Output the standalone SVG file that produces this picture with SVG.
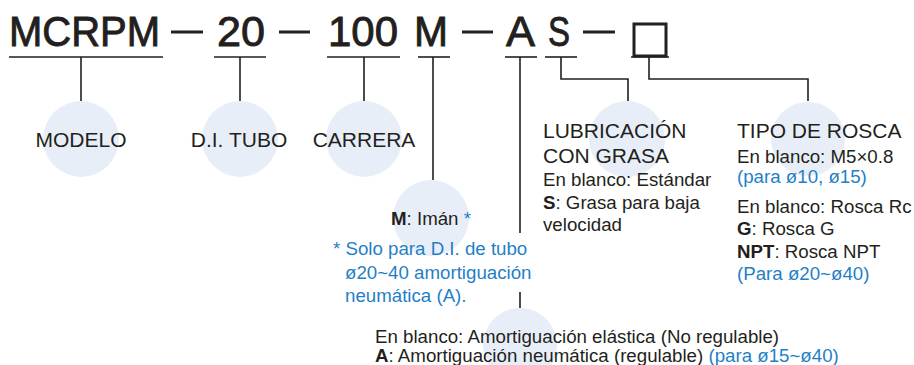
<svg xmlns="http://www.w3.org/2000/svg" width="914" height="365" viewBox="0 0 914 365">
<style>
.code{font-family:"Liberation Sans",Arial,sans-serif;font-size:42px;fill:#231f20;stroke:#231f20;stroke-width:0.9}
.lbl{font-family:"Liberation Sans",Arial,sans-serif;font-size:21px;fill:#231f20}
.sm{font-family:"Liberation Sans",Arial,sans-serif;font-size:18.7px;fill:#231f20}
.blue{fill:#1f7fc6}
.b{font-weight:bold}
.bub{fill:#e8eef8}
.ln{stroke:#231f20;stroke-width:1.6;fill:none}
.dash{stroke:#231f20;stroke-width:3}
</style>
<g id="code">
<text class="code" x="9" y="45.5" textLength="151" lengthAdjust="spacingAndGlyphs">MCRPM</text>
<line class="dash" x1="171" y1="32" x2="203" y2="32"/>
<text class="code" x="217" y="45.5" textLength="48" lengthAdjust="spacingAndGlyphs">20</text>
<line class="dash" x1="279" y1="32" x2="310" y2="32"/>
<text class="code" x="328" y="45.5" textLength="70" lengthAdjust="spacingAndGlyphs">100</text>
<text class="code" x="414" y="45.5" textLength="34" lengthAdjust="spacingAndGlyphs">M</text>
<line class="dash" x1="462" y1="32" x2="493" y2="32"/>
<text class="code" x="506" y="45.5" textLength="29" lengthAdjust="spacingAndGlyphs">A</text>
<text class="code" x="548" y="45.5" textLength="22" lengthAdjust="spacingAndGlyphs">S</text>
<line class="dash" x1="583" y1="32" x2="615" y2="32"/>
<rect x="634" y="24" width="32" height="32" fill="none" stroke="#231f20" stroke-width="3"/>
</g>
<g id="connectors">
<line class="ln" x1="9" y1="57" x2="163" y2="57"/>
<line class="ln" x1="214" y1="57" x2="266" y2="57"/>
<line class="ln" x1="327" y1="57" x2="400" y2="57"/>
<line class="ln" x1="418" y1="57" x2="450" y2="57"/>
<line class="ln" x1="505" y1="57" x2="537" y2="57"/>
<line class="ln" x1="545" y1="57" x2="577" y2="57"/>
<line class="ln" x1="631" y1="57" x2="669" y2="57"/>
<line class="ln" x1="81" y1="57" x2="81" y2="101"/>
<line class="ln" x1="240" y1="57" x2="240" y2="101"/>
<line class="ln" x1="364" y1="57" x2="364" y2="101"/>
<line class="ln" x1="433" y1="57" x2="433" y2="180"/>
<line class="ln" x1="520" y1="57" x2="520" y2="233"/>
<line class="ln" x1="520" y1="292" x2="520" y2="308"/>
<polyline class="ln" points="561,57 561,79 628,79 628,101"/>
<polyline class="ln" points="649,57 649,79 808,79 808,101"/>
</g>
<g id="modelo">
<circle class="bub" cx="81" cy="139" r="38"/>
<text class="lbl" x="81" y="147" text-anchor="middle">MODELO</text>
</g>
<g id="tubo">
<circle class="bub" cx="240" cy="139" r="38"/>
<text class="lbl" x="239" y="147" text-anchor="middle">D.I. TUBO</text>
</g>
<g id="carrera">
<circle class="bub" cx="364" cy="139" r="38"/>
<text class="lbl" x="364" y="147" text-anchor="middle">CARRERA</text>
</g>
<g id="iman">
<circle class="bub" cx="431" cy="218" r="38"/>
<text class="sm" x="431" y="225" text-anchor="middle"><tspan class="b">M</tspan>: Imán <tspan class="blue">*</tspan></text>
<text class="sm blue" x="333" y="255">* Solo para D.I. de tubo</text>
<text class="sm blue" x="345" y="279">ø20~40 amortiguación</text>
<text class="sm blue" x="345" y="302">neumática (A).</text>
</g>
<g id="amortiguacion">
<circle class="bub" cx="520" cy="345" r="37"/>
<text class="sm" x="375" y="343">En blanco: Amortiguación elástica (No regulable)</text>
<text class="sm" x="375" y="362"><tspan class="b">A</tspan>: Amortiguación neumática (regulable) <tspan class="blue">(para ø15~ø40)</tspan></text>
</g>
<g id="lubricacion">
<circle class="bub" cx="627" cy="139" r="38"/>
<text class="lbl" x="543" y="138">LUBRICACIÓN</text>
<text class="lbl" x="543" y="163">CON GRASA</text>
<text class="sm" x="543" y="186">En blanco: Estándar</text>
<text class="sm" x="543" y="209"><tspan class="b">S</tspan>: Grasa para baja</text>
<text class="sm" x="543" y="231">velocidad</text>
</g>
<g id="rosca">
<circle class="bub" cx="808" cy="139" r="37"/>
<text class="lbl" x="737" y="138">TIPO DE ROSCA</text>
<text class="sm" x="737" y="163">En blanco: M5×0.8</text>
<text class="sm blue" x="737" y="183">(para ø10, ø15)</text>
<text class="sm" x="737" y="213">En blanco: Rosca Rc</text>
<text class="sm" x="737" y="235"><tspan class="b">G</tspan>: Rosca G</text>
<text class="sm" x="737" y="258"><tspan class="b">NPT</tspan>: Rosca NPT</text>
<text class="sm blue" x="737" y="280">(Para ø20~ø40)</text>
</g>
</svg>
